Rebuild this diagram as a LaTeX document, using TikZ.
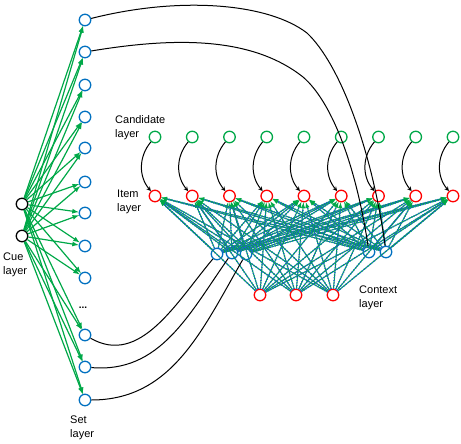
\documentclass[tikz,border=0pt]{standalone}
\usepackage{fontspec}
\setmainfont{Liberation Sans}
\usetikzlibrary{arrows}
\definecolor{netgreen}{RGB}{0,168,72}
\definecolor{netblue}{RGB}{0,112,192}
\definecolor{netred}{RGB}{255,0,0}
\definecolor{dotblue}{RGB}{30,100,205}

\begin{document}
\begin{tikzpicture}[x=1pt,y=-1pt,
unit/.style={circle,draw,line width=1.3pt,minimum size=11.5pt,inner sep=0pt},
cue/.style={unit,draw=black},
set/.style={unit,draw=netblue},
cand/.style={unit,draw=netgreen},
item/.style={unit,draw=netred},
layer/.style={anchor=north west,align=left,inner sep=0pt,font=\fontsize{11}{14}\selectfont},
cuearrow/.style={draw=netgreen,line width=1.2pt,-latex},
candarrow/.style={draw=black,line width=1pt,-stealth},
ctxline/.style={draw=netgreen,line width=1pt,-latex},
ctxdots/.style={draw=dotblue,line width=1.5pt,dash pattern=on 1pt off 1.6pt,shorten >=6pt},
mapline/.style={draw=black,line width=1pt}]
\useasboundingbox (0,0) rectangle (461,444);

%cue layer
\node[cue](c1) at (22,204) {};
\node[cue](c2) at (22,236) {};
%set layer
\foreach \y [count=\n] in {20,52,85,117,148,182,213,246,278,335,367,400}
	\node[set](s\n) at (85,\y) {};
\node(dots) at (83,308) {\textbf{...}};
%candidate and item layer
\foreach \n in {1,...,9}{
	\node[cand](k\n) at ({155+37.25*(\n-1)},137) {};
	\node[item](i\n) at ({155+37.25*(\n-1)},196) {};
}
%context layer
\node[item](x1) at (260,295) {};
\node[item](x2) at (296,295) {};
\node[item](x3) at (333,295) {};
\node[set](b1) at (217,254) {};
\node[set](b2) at (232,253) {};
\node[set](b3) at (246,254) {};
\node[set](b4) at (369,252) {};
\node[set](b5) at (386,252) {};

%labels
\node[layer](lcand) at (115,115) {Candidate\\layer};
\node[layer](litem) at (117,190) {Item\\layer};
\node[layer](lcue) at (3,253) {Cue\\layer};
\node[layer](lset) at (70,416) {Set\\layer};
\node[layer](lctx) at (359,286) {Context\\layer};

%cue to set
\foreach \c in {1,2}
	\foreach \n in {1,...,12}
		\draw[cuearrow] (c\c) -- (s\n);

%context to item
\foreach \b in {x1,x2,x3,b1,b2,b3,b4,b5}
	\foreach \n in {1,...,9}{
		\draw[ctxline] (\b) -- (i\n);
		\draw[ctxdots] (\b) -- (i\n);
	}

%candidate to item
\foreach \n in {1,...,9}
	\draw[candarrow] (k\n) to[bend right=40] (i\n);

%set to context
\draw[mapline] (s1) .. controls (180,-4) and (268,3) .. (307,33)
	.. controls (340,64) and (372,150) .. (b5);
\draw[mapline] (s2) .. controls (170,38) and (250,35) .. (303,77)
	.. controls (330,100) and (355,160) .. (b4);
\draw[mapline] (s10) to[out=-30,in=-130] (b1);
\draw[mapline] (s11) to[out=-5,in=-125] (b2);
\draw[mapline] (s12) to[out=0,in=-120] (b3);
\end{tikzpicture}
\end{document}
